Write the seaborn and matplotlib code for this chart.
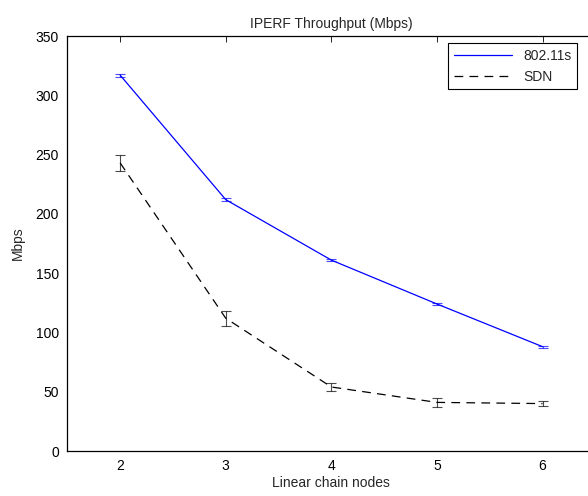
import pandas as pd
import seaborn as sns
import matplotlib.pyplot as plt

# values
nodes = [2, 3, 4, 5, 6]
mesh_mbps = [317, 212, 161, 124, 88]
mesh_err = [1.2, 1.2, 1.0, 1.0, 0.8]
sdn_mbps = [243, 112, 54, 41, 40]
sdn_err = [6.5, 6.5, 3.5, 3.5, 2.0]

df = pd.DataFrame({
    'nodes': nodes * 2,
    'Mbps': mesh_mbps + sdn_mbps,
    'err': mesh_err + sdn_err,
    'Method': ['802.11s'] * len(nodes) + ['SDN'] * len(nodes),
})

sns.set_style('white')
plt.rcParams['font.family'] = ['Liberation Sans', 'DejaVu Sans']

fig = plt.figure(figsize=(5.88, 4.96), dpi=100)
ax = fig.add_axes([0.1145, 0.0907, 0.898, 0.8367])

colors = {'802.11s': '#0000ff', 'SDN': 'black'}
sns.lineplot(data=df, x='nodes', y='Mbps', hue='Method', style='Method',
             palette=colors, dashes={'802.11s': '', 'SDN': (7, 5)},
             linewidth=0.9, ax=ax)

for name, grp in df.groupby('Method'):
    ax.errorbar(grp['nodes'], grp['Mbps'], yerr=grp['err'], fmt='none',
                ecolor=colors[name], elinewidth=0.8, capsize=3.5,
                capthick=0.8, alpha=0.7)

ax.set_xlim(1.5, 6.5)
ax.set_ylim(0, 350)
ax.set_xticks(nodes)
ax.set_yticks(range(0, 351, 50))
ax.tick_params(direction='in', length=4, width=0.6, top=True, right=False,
               labelsize=10, colors='black', pad=6)
for s in ax.spines.values():
    s.set_color('black')
    s.set_linewidth(0.9)
# the original is cropped before the right border
ax.spines['right'].set_visible(False)

ax.set_xlabel('Linear chain nodes', fontsize=10, labelpad=2)
ax.set_ylabel('Mbps', fontsize=10, labelpad=8)
ax.set_title('IPERF Throughput (Mbps)', fontsize=10, pad=6)

leg = ax.legend(loc='upper right', bbox_to_anchor=(0.981, 0.913),
                bbox_transform=fig.transFigure, fontsize=10,
                fancybox=False, framealpha=1, edgecolor='black',
                handlelength=4.2, borderaxespad=0)
leg.get_frame().set_linewidth(0.8)

fig.savefig('out.png', dpi=100)
